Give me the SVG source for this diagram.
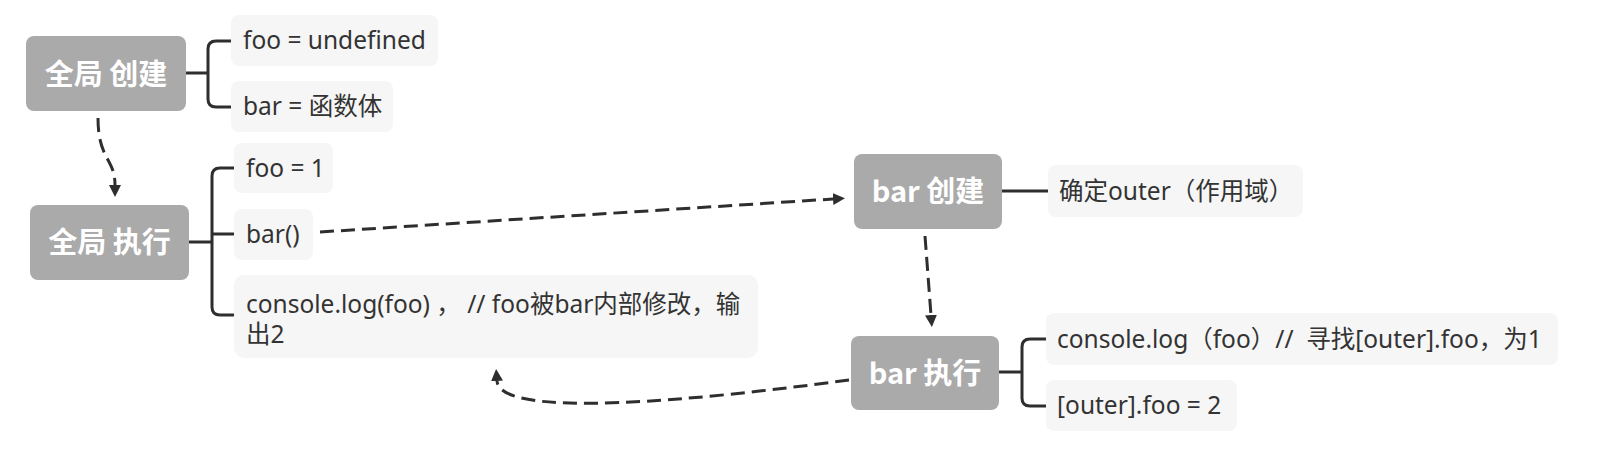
<svg xmlns="http://www.w3.org/2000/svg" width="1620" height="460" viewBox="0 0 1620 460">
  <defs>
    <marker id="arrow" viewBox="0 0 12 12" refX="0" refY="6" markerWidth="12" markerHeight="12" markerUnits="userSpaceOnUse" orient="auto">
      <path d="M0,0 L12,6 L0,12 z" fill="#2e2e2e"/>
    </marker>
    <style>
      .main { fill: #aaaaaa; }
      .child { fill: #f6f6f6; }
      .title { font-family: "Noto Sans CJK SC", "Noto Sans", sans-serif; font-weight: bold; font-size: 29px; fill: #ffffff; text-anchor: middle; }
      .label { font-family: "Noto Sans", "Noto Sans CJK SC", sans-serif; font-size: 24.5px; fill: #333333; white-space: pre; }
      .branch { fill: none; stroke: #2e2e2e; stroke-width: 3; stroke-linejoin: round; }
      .dash { fill: none; stroke: #2e2e2e; stroke-width: 3; stroke-dasharray: 14 7; marker-end: url(#arrow); }
    </style>
  </defs>
  <rect width="1620" height="460" fill="#ffffff"/>

  <g id="connectors">
    <path class="branch" d="M186,73 H208 M231,41 H216 Q208,41 208,49 V99 Q208,107 216,107 H231"/>
    <path class="branch" d="M189,242 H212 M234,168 H220 Q212,168 212,176 V307 Q212,315 220,315 H234 M212,234 H234"/>
    <path class="branch" d="M1002,191 H1048"/>
    <path class="branch" d="M999,372 H1022 M1046,339 H1030 Q1022,339 1022,347 V398 Q1022,406 1030,406 H1046"/>
    <path class="dash" d="M98,118 C98,160 115,158 115,185"/>
    <path class="dash" d="M320,232 L833,199"/>
    <path class="dash" d="M925,236 L931,315"/>
    <path class="dash" d="M849,380 C700,400 500,420 497,381"/>
  </g>

  <g id="global-create">
    <rect class="main" x="26" y="36" width="160" height="75" rx="8"/>
    <text class="title" x="106" y="85">全局 创建</text>
  </g>
  <g id="global-create-foo">
    <rect class="child" x="231" y="15" width="207" height="51" rx="8"/>
    <text class="label" x="243" y="49">foo = undefined</text>
  </g>
  <g id="global-create-bar">
    <rect class="child" x="231" y="81" width="162" height="51" rx="8"/>
    <text class="label" x="243" y="115">bar = 函数体</text>
  </g>

  <g id="global-exec">
    <rect class="main" x="30" y="205" width="159" height="75" rx="8"/>
    <text class="title" x="109.5" y="253">全局 执行</text>
  </g>
  <g id="global-exec-foo">
    <rect class="child" x="234" y="143" width="99" height="50" rx="8"/>
    <text class="label" x="246" y="176.5">foo = 1</text>
  </g>
  <g id="global-exec-bar">
    <rect class="child" x="234" y="209" width="79" height="51" rx="8"/>
    <text class="label" x="246" y="243">bar()</text>
  </g>
  <g id="global-exec-log">
    <rect class="child" x="234" y="275" width="524" height="83" rx="10"/>
    <text class="label" x="246" y="313">console.log(foo) ， // foo被bar内部修改，输<tspan x="246" dy="30">出2</tspan></text>
  </g>

  <g id="bar-create">
    <rect class="main" x="854" y="154" width="148" height="75" rx="8"/>
    <text class="title" x="928" y="202">bar 创建</text>
  </g>
  <g id="bar-create-outer">
    <rect class="child" x="1048" y="165" width="255" height="52" rx="8"/>
    <text class="label" x="1059" y="199.5">确定outer（作用域）</text>
  </g>

  <g id="bar-exec">
    <rect class="main" x="851" y="336" width="148" height="74" rx="8"/>
    <text class="title" x="925" y="383.5">bar 执行</text>
  </g>
  <g id="bar-exec-log">
    <rect class="child" x="1046" y="313" width="512" height="52" rx="8"/>
    <text class="label" x="1057" y="347.5">console.log（foo）//  寻找[outer].foo，为1</text>
  </g>
  <g id="bar-exec-assign">
    <rect class="child" x="1046" y="380" width="191" height="51" rx="8"/>
    <text class="label" x="1057" y="414">[outer].foo = 2</text>
  </g>
</svg>
